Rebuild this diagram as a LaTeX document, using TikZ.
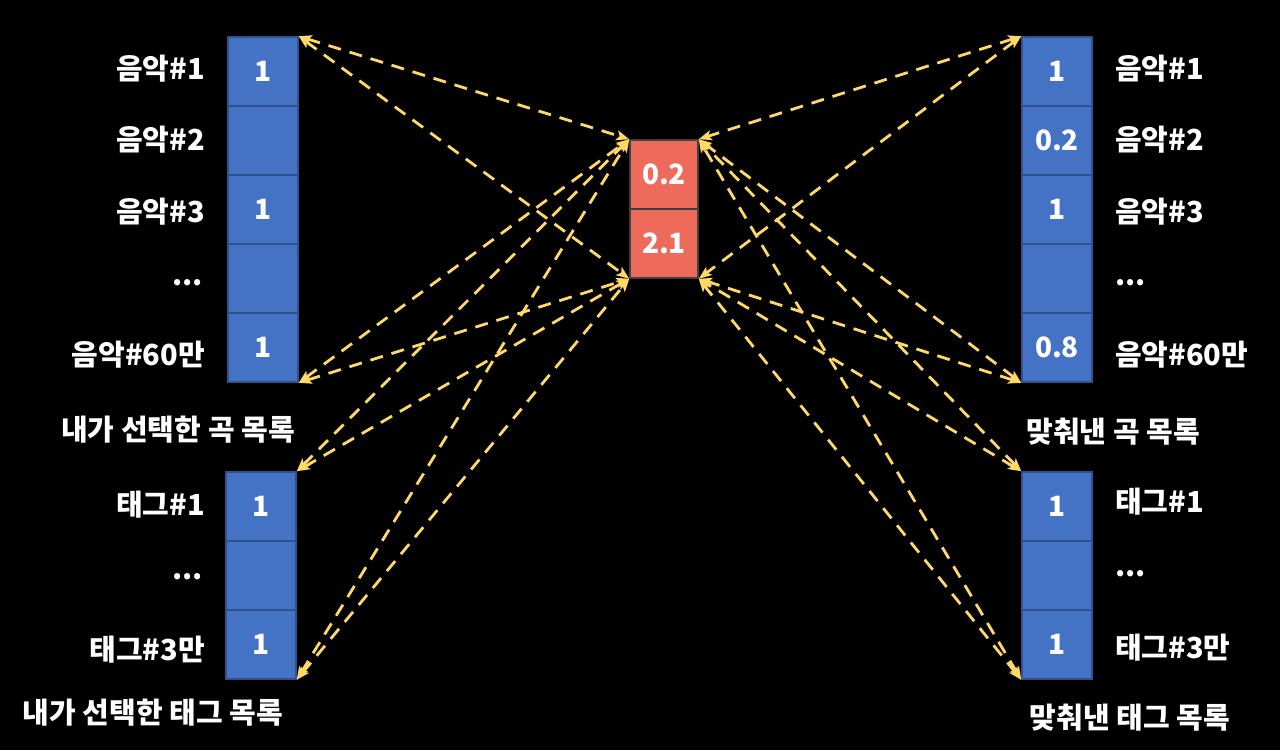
\documentclass[tikz,border=0pt]{standalone}
\usepackage{fontspec}
\setmainfont{Noto Sans CJK KR}
\usetikzlibrary{arrows.meta}
\definecolor{cellblue}{HTML}{4472C4}
\definecolor{cellblueborder}{HTML}{2F528F}
\definecolor{cellred}{HTML}{EE6A5B}
\definecolor{cellredborder}{HTML}{404040}
\definecolor{linkyellow}{HTML}{FFD966}
\begin{document}
\begin{tikzpicture}[x=1pt,y=-1pt,
  bcell/.style={rectangle,draw=cellblueborder,fill=cellblue,line width=1.5pt,minimum width=70pt,minimum height=69pt,inner sep=0pt,text=white,font=\fontsize{28}{30}\selectfont\bfseries},
  rcell/.style={rectangle,draw=cellredborder,fill=cellred,line width=1.5pt,minimum width=68pt,minimum height=69pt,inner sep=0pt,text=white,font=\fontsize{28}{30}\selectfont\bfseries},
  lbl/.style={text=white,inner sep=0pt,font=\fontsize{29}{32}\selectfont\bfseries},
  link/.style={draw=linkyellow,line width=2.8pt,dash pattern=on 13pt off 9pt,{Stealth[length=13pt,width=10pt,inset=3pt]}-{Stealth[length=13pt,width=10pt,inset=3pt]}}
]
\fill[black] (0,0) rectangle (1280,750);
\useasboundingbox (0,0) rectangle (1280,750);
% left music
\node[bcell] (lm1) at (263,71.5) {1};
\node[bcell] (lm2) at (263,140.5) {};
\node[bcell] (lm3) at (263,209.5) {1};
\node[bcell] (lm4) at (263,278.5) {};
\node[bcell] (lm5) at (263,347.5) {1};
% left tag
\node[bcell] (lt1) at (261,506.5) {1};
\node[bcell] (lt2) at (261,575.5) {};
\node[bcell] (lt3) at (261,644.5) {1};
% center
\node[rcell] (c1) at (664,174.5) {0.2};
\node[rcell] (c2) at (664,243.5) {2.1};
% right music
\node[bcell] (rm1) at (1057,71.5) {1};
\node[bcell] (rm2) at (1057,140.5) {0.2};
\node[bcell] (rm3) at (1057,209.5) {1};
\node[bcell] (rm4) at (1057,278.5) {};
\node[bcell] (rm5) at (1057,347.5) {0.8};
% right tag
\node[bcell] (rt1) at (1057,506.5) {1};
\node[bcell] (rt2) at (1057,575.5) {};
\node[bcell] (rt3) at (1057,644.5) {1};
% left labels
\node[lbl,anchor=east] (llm1) at (205,69) {음악\#1};
\node[lbl,anchor=east] (llm2) at (205,140) {음악\#2};
\node[lbl,anchor=east] (llm3) at (205,212) {음악\#3};
\node[lbl,anchor=east] (llm4) at (203,283) {...};
\node[lbl,anchor=east] (llm5) at (205,355) {음악\#60만};
\node[lbl] (lmcap) at (178,430) {내가 선택한 곡 목록};
\node[lbl,anchor=east] (llt1) at (205,505) {태그\#1};
\node[lbl,anchor=east] (llt2) at (203,577) {...};
\node[lbl,anchor=east] (llt3) at (205,650) {태그\#3만};
\node[lbl] (ltcap) at (153,713) {내가 선택한 태그 목록};
% right labels
\node[lbl,anchor=west] (rlm1) at (1115,69) {음악\#1};
\node[lbl,anchor=west] (rlm2) at (1115,140) {음악\#2};
\node[lbl,anchor=west] (rlm3) at (1115,212) {음악\#3};
\node[lbl,anchor=west] (rlm4) at (1115,283) {...};
\node[lbl,anchor=west] (rlm5) at (1115,355) {음악\#60만};
\node[lbl] (rmcap) at (1113,432) {맞춰낸 곡 목록};
\node[lbl,anchor=west] (rlt1) at (1115,502) {태그\#1};
\node[lbl,anchor=west] (rlt2) at (1115,574) {...};
\node[lbl,anchor=west] (rlt3) at (1115,648) {태그\#3만};
\node[lbl] (rtcap) at (1130,718) {맞춰낸 태그 목록};
% links left
\foreach \s in {lm1.north east,lm5.south east,lt1.north east,lt3.south east}{
  \draw[link] (\s) -- (c1.north west);
  \draw[link] (\s) -- (c2.south west);
}
% links right
\foreach \s in {rm1.north west,rm5.south west,rt1.north west,rt3.south west}{
  \draw[link] (\s) -- (c1.north east);
  \draw[link] (\s) -- (c2.south east);
}
\end{tikzpicture}
\end{document}
